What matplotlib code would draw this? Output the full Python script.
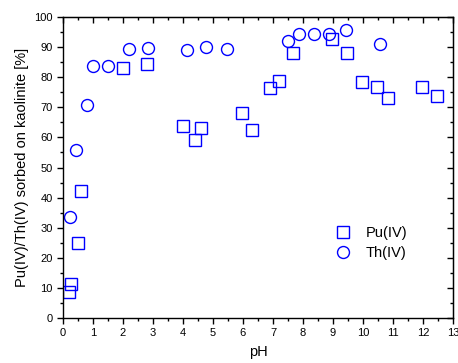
import matplotlib
matplotlib.use("Agg")
import matplotlib.pyplot as plt
from matplotlib.ticker import MultipleLocator

plt.rcParams['font.family'] = ['Liberation Sans', 'DejaVu Sans']

pu_ph = [0.21, 0.27, 0.49, 0.6, 1.99, 2.8, 3.99, 4.39, 4.59, 5.98, 6.29, 6.9, 7.19, 7.68,
         8.98, 9.47, 9.98, 10.48, 10.82, 11.97, 12.47]
pu_sorb = [8.5, 11.3, 24.9, 42.2, 83.0, 84.4, 63.9, 59.2, 63.0, 68.0, 62.5, 76.5, 78.9, 88.1,
           92.7, 88.1, 78.3, 76.6, 73.0, 76.7, 73.9]

th_ph = [0.22, 0.44, 0.8, 0.99, 1.5, 2.2, 2.84, 4.14, 4.77, 5.47, 7.49, 7.88, 8.38, 8.87,
         9.42, 10.58]
th_sorb = [33.5, 55.9, 70.8, 83.6, 83.8, 89.4, 89.7, 89.2, 89.9, 89.5, 92.1, 94.4, 94.5, 94.5,
           95.8, 91.2]

fig = plt.figure(figsize=(4.58, 3.63), dpi=100)
ax = fig.add_axes([0.1376, 0.124, 0.8514, 0.829])

blue = '#0000ff'
ax.plot(pu_ph, pu_sorb, ls='none', marker='s', ms=8, mfc='none', mec=blue, mew=1.0, label='Pu(IV)')
ax.plot(th_ph, th_sorb, ls='none', marker='o', ms=8.6, mfc='none', mec=blue, mew=1.0, label='Th(IV)')

ax.set_xlim(0, 13)
ax.set_ylim(0, 100)
ax.xaxis.set_major_locator(MultipleLocator(1))
ax.xaxis.set_minor_locator(MultipleLocator(0.5))
ax.yaxis.set_major_locator(MultipleLocator(10))
ax.yaxis.set_minor_locator(MultipleLocator(5))
ax.tick_params(which='both', direction='out', labelsize=8, width=1)
ax.tick_params(which='major', length=4)
ax.tick_params(which='minor', length=2)

# inward ticks on top and right
top = ax.secondary_xaxis('top')
top.xaxis.set_major_locator(MultipleLocator(1))
top.xaxis.set_minor_locator(MultipleLocator(0.5))
top.tick_params(which='both', direction='in', labeltop=False, width=1)
top.tick_params(which='major', length=4)
top.tick_params(which='minor', length=2)
right = ax.secondary_yaxis('right')
right.yaxis.set_major_locator(MultipleLocator(10))
right.yaxis.set_minor_locator(MultipleLocator(5))
right.tick_params(which='both', direction='in', labelright=False, width=1)
right.tick_params(which='major', length=4)
right.tick_params(which='minor', length=2)

for s in ax.spines.values():
    s.set_linewidth(1)

ax.set_xlabel('pH', fontsize=10.5, labelpad=5)
ax.set_ylabel('Pu(IV)/Th(IV) sorbed on kaolinite [%]', fontsize=10.5, labelpad=4)

ax.legend(loc='upper left', bbox_to_anchor=(0.665, 0.35), frameon=False, fontsize=10.5,
          handletextpad=1.1, labelspacing=0.45, handlelength=1.0)

fig.savefig('out.png', dpi=100)
